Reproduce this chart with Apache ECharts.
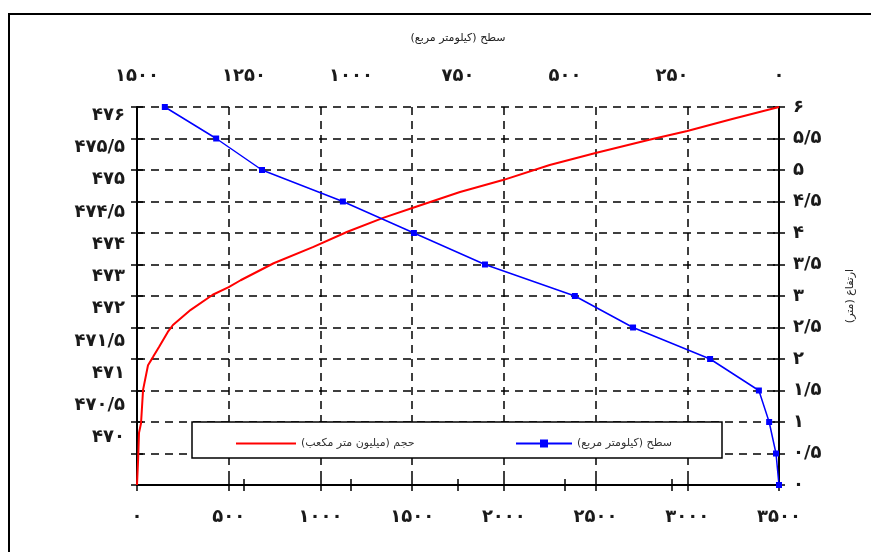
<!DOCTYPE html>
<html>
<head>
<meta charset="utf-8">
<script src="https://cdn.jsdelivr.net/npm/echarts@6/dist/echarts.min.js"></script>
<style>
  html, body { margin: 0; padding: 0; background: #fff; }
  #chart { width: 871px; height: 552px; }
</style>
</head>
<body>
<div id="chart" dir="rtl"></div>
<script>
// Reservoir elevation – volume – area curves

// Volume curve (million m³) against height above bed (m)
const volumeHeight = [0, 0.40, 0.83, 0.98, 1.51, 1.90, 2.03, 2.19, 2.43, 2.54, 2.78, 3.02, 3.14, 3.25, 3.52, 3.78, 4.02, 4.24, 4.40, 4.65, 4.84, 5.08, 5.27, 5.48, 5.62, 5.81, 6.0];
const volumeValues = [0, 6, 11, 22, 33, 60, 87, 120, 168, 196, 293, 413, 500, 565, 745, 962, 1147, 1342, 1505, 1761, 1995, 2250, 2500, 2793, 3000, 3245, 3500];

// Surface area curve (km²) against height (m)
const areaHeight = [0, 0.5, 1.0, 1.5, 2.0, 2.5, 3.0, 3.5, 4.0, 4.5, 5.0, 5.5, 6.0];
const areaValues = [0, 7, 23, 47, 161, 341, 477, 687, 853, 1019, 1208, 1315, 1435];

// Elevation labels (m above sea level) on the left axis
const elevationLabels = ['۴۷۰', '۴۷۰/۵', '۴۷۱', '۴۷۱/۵', '۴۷۲', '۴۷۳', '۴۷۴', '۴۷۴/۵', '۴۷۵', '۴۷۵/۵', '۴۷۶'];

const volumeName = 'حجم (میلیون متر مکعب)';
const areaName = 'سطح (کیلومتر مربع)';
const heightName = 'ارتفاع (متر)';

const FONT = 'DejaVu Sans';
const persianDigits = '۰۱۲۳۴۵۶۷۸۹';
function toPersian(v) {
  return String(v).replace(/[0-9]/g, d => persianDigits[+d]).replace('.', '/');
}

// elevation labels are spread evenly between these heights
const elevFirst = 0.75, elevLast = 5.87;
const elevStep = (elevLast - elevFirst) / (elevationLabels.length - 1);
const elevPositions = elevationLabels.map((_, i) => +(elevFirst + i * elevStep).toFixed(4));

const tickLabel = { fontFamily: FONT, fontSize: 18, fontWeight: 'bold', color: '#1a1a1a' };
const axisLineStyle = { show: true, lineStyle: { color: '#000', width: 2 } };
const dashed = { show: true, lineStyle: { color: '#000', width: 1.5, type: [8, 6] } };
const innerTick = { show: true, inside: true, length: 6, lineStyle: { color: '#000', width: 1.5 } };

function hAxis(extra) {
  return Object.assign({
    type: 'value',
    axisLine: axisLineStyle,
    axisTick: { show: true, length: 6, lineStyle: { color: '#000', width: 1.5 } },
    axisLabel: { show: false },
    splitLine: { show: false }
  }, extra);
}

const chart = echarts.init(document.getElementById('chart'), null, { renderer: 'canvas' });

chart.setOption({
  animation: false,
  backgroundColor: '#fff',
  grid: { left: 137, right: 92, top: 107, bottom: 67, containLabel: false },
  xAxis: [
    hAxis({ position: 'bottom', min: 0, max: 3500, interval: 500,
      axisLabel: Object.assign({ show: true, margin: 23, formatter: v => toPersian(v) }, tickLabel),
      splitLine: dashed }),
    hAxis({ position: 'bottom', min: 0, max: 3500, interval: 500, axisLine: { show: false }, axisTick: innerTick }),
    hAxis({ position: 'top', min: 0, max: 1500, interval: 250, inverse: true,
      axisLabel: Object.assign({ show: true, margin: 22, formatter: v => toPersian(v) }, tickLabel),
      name: areaName, nameLocation: 'middle', nameGap: 63,
      nameTextStyle: { fontFamily: FONT, fontSize: 11, color: '#222' } }),
    hAxis({ position: 'top', min: 0, max: 1500, interval: 250, inverse: true, axisLine: { show: false }, axisTick: innerTick })
  ],
  yAxis: [
    hAxis({ position: 'left', min: 0, max: 6, interval: 0.5, splitLine: dashed }),
    hAxis({ position: 'left', min: 0, max: 6, interval: 0.5, axisLine: { show: false }, axisTick: innerTick }),
    hAxis({ position: 'left', min: 0, max: 6, axisLine: { show: false }, axisTick: { show: false },
      axisLabel: Object.assign({
        show: true, margin: 12, customValues: elevPositions,
        formatter: v => elevationLabels[Math.round((v - elevFirst) / elevStep)] || ''
      }, tickLabel) }),
    hAxis({ position: 'right', min: 0, max: 6, interval: 0.5,
      axisLabel: Object.assign({ show: true, margin: 14, formatter: v => toPersian(v) }, tickLabel),
      name: heightName, nameLocation: 'middle', nameGap: 66, nameRotate: 90,
      nameTextStyle: { fontFamily: FONT, fontSize: 11, color: '#222' } }),
    hAxis({ position: 'right', min: 0, max: 6, interval: 0.5, axisLine: { show: false }, axisTick: innerTick })
  ],
  legend: [
    { data: [{ name: volumeName, itemStyle: { opacity: 0 } }], left: 230, top: 433, itemWidth: 60, itemHeight: 10, itemGap: 0,
      textStyle: { fontFamily: FONT, fontSize: 11, color: '#333' }, z: 6 },
    { data: [areaName], left: 510, top: 433, itemWidth: 56, itemHeight: 10, itemGap: 0,
      textStyle: { fontFamily: FONT, fontSize: 11, color: '#333' }, z: 6 }
  ],
  graphic: [
    { type: 'rect', z: 5, shape: { x: 192, y: 422, width: 530, height: 36 },
      style: { fill: '#fff', stroke: '#000', lineWidth: 1.5 } },
    { type: 'rect', z: 0, shape: { x: 9, y: 14, width: 900, height: 600 },
      style: { fill: 'none', stroke: '#000', lineWidth: 2 } }
  ],
  series: [
    {
      name: volumeName, type: 'line', xAxisIndex: 0, yAxisIndex: 0,
      data: volumeValues.map((v, i) => [v, volumeHeight[i]]),
      showSymbol: false, symbol: 'none',
      lineStyle: { color: '#ff0000', width: 2 }, itemStyle: { color: '#ff0000' }
    },
    {
      name: areaName, type: 'line', xAxisIndex: 2, yAxisIndex: 0,
      data: areaValues.map((v, i) => [v, areaHeight[i]]),
      symbol: 'rect', symbolSize: 6,
      lineStyle: { color: '#0000ff', width: 1.5 }, itemStyle: { color: '#0000ff' }
    }
  ]
});
</script>
</body>
</html>
